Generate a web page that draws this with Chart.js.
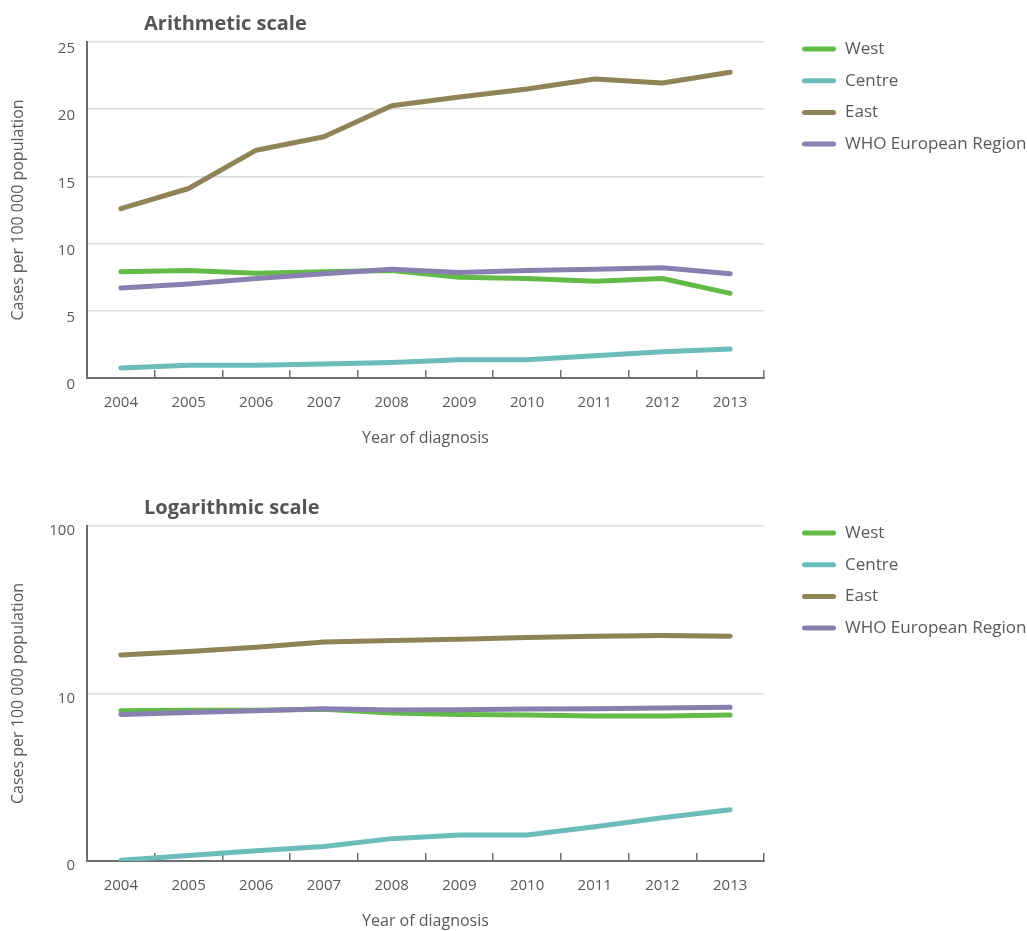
<!DOCTYPE html>
<html>
<head>
<meta charset="utf-8">
<script src="https://cdn.jsdelivr.net/npm/chart.js@4"></script>
<style>
  body { margin: 0; background: #fff; }
  .panel { position: absolute; left: 0; width: 1027px; height: 448px; }
</style>
</head>
<body>
<div class="panel" style="top:0"><canvas id="arithChart"></canvas></div>
<div class="panel" style="top:483px"><canvas id="logChart"></canvas></div>
<script>
const years = ["2004", "2005", "2006", "2007", "2008", "2009", "2010", "2011", "2012", "2013"];
const regions = ["West", "Centre", "East", "WHO European Region"];
const colours = ["#62bb46", "#6cbcbc", "#8f8357", "#897fb0"];

// arithmetic panel
const westArith = [7.9, 8.0, 7.8, 7.9, 8.0, 7.5, 7.4, 7.2, 7.4, 6.3];
const centreArith = [0.75, 0.95, 0.95, 1.05, 1.15, 1.35, 1.35, 1.65, 1.95, 2.15];
const eastArith = [12.6, 14.1, 16.95, 17.95, 20.25, 20.9, 21.5, 22.25, 21.95, 22.75];
const whoArith = [6.7, 7.0, 7.4, 7.75, 8.1, 7.85, 8.0, 8.1, 8.2, 7.75];

// logarithmic panel (values as drawn there)
const westLog = [7.9, 7.95, 7.95, 8.05, 7.65, 7.5, 7.45, 7.35, 7.35, 7.45];
const centreLog = [1.01, 1.08, 1.15, 1.22, 1.36, 1.43, 1.43, 1.6, 1.81, 2.02];
const eastLog = [17.0, 17.8, 18.9, 20.3, 20.7, 21.1, 21.6, 22.0, 22.2, 22.0];
const whoLog = [7.5, 7.7, 7.9, 8.1, 7.97, 8.0, 8.08, 8.1, 8.2, 8.27];

const logTicks = [1, 10, 100];
const logTickLabels = ["0", "10", "100"];

Chart.defaults.font.family = '"Open Sans", sans-serif';
Chart.defaults.color = "#58595b";

const axisGrey = "#6d6e71";
const gridGrey = "#dcdcdc";

const panelTitle = {
  id: "panelTitle",
  afterDraw(chart, args, opts) {
    const { ctx, chartArea } = chart;
    ctx.save();
    ctx.font = 'bold 20px "Open Sans", sans-serif';
    ctx.fillStyle = "#555";
    ctx.textBaseline = "middle";
    ctx.fillText(opts.text, chartArea.left + 57, chartArea.top - 18);
    ctx.restore();
  }
};

const sideLegend = {
  id: "sideLegend",
  afterDraw(chart) {
    const { ctx, chartArea } = chart;
    chart.data.datasets.forEach((ds, i) => {
      const y = chartArea.top + 7 + i * 31.7;
      ctx.save();
      ctx.strokeStyle = ds.borderColor;
      ctx.lineWidth = 5;
      ctx.lineCap = "round";
      ctx.beginPath();
      ctx.moveTo(chartArea.right + 40.5, y);
      ctx.lineTo(chartArea.right + 69.5, y);
      ctx.stroke();
      ctx.fillStyle = "#58595b";
      ctx.font = '17px "Open Sans", sans-serif';
      ctx.textBaseline = "middle";
      ctx.fillText(ds.label, chartArea.right + 81, y);
      ctx.restore();
    });
  }
};

function buildDatasets(series) {
  return series.map((data, i) => ({
    label: regions[i],
    data: data,
    borderColor: colours[i],
    backgroundColor: colours[i],
    borderWidth: 5,
    borderCapStyle: "round",
    borderJoinStyle: "round",
    pointRadius: 0,
    tension: 0,
    order: i === 3 ? 0 : 1
  }));
}

function xAxis() {
  return {
    type: "category",
    offset: true,
    grid: { offset: true, drawOnChartArea: false, drawTicks: true, tickLength: -8, color: axisGrey, lineWidth: 1.5 },
    border: { color: axisGrey, width: 2 },
    ticks: { padding: 24, font: { size: 15 }, maxRotation: 0, autoSkip: false },
    title: { display: true, text: "Year of diagnosis", font: { size: 16 }, padding: 0 },
    afterFit(s) { s.height = 70; }
  };
}

function yTitle() {
  return { display: true, text: "Cases per 100 000 population", font: { size: 16 }, padding: { top: 9 } };
}

function makeChart(id, series, yScale, title, padTop) {
  const ctx = document.getElementById(id).getContext("2d");
  return new Chart(ctx, {
    type: "line",
    data: { labels: years, datasets: buildDatasets(series) },
    options: {
      responsive: true,
      maintainAspectRatio: false,
      animation: false,
      layout: { padding: { top: padTop, right: 263, left: 0, bottom: 0 } },
      plugins: {
        legend: { display: false },
        tooltip: { enabled: false },
        panelTitle: { text: title }
      },
      scales: { x: xAxis(), y: yScale }
    },
    plugins: [panelTitle, sideLegend]
  });
}

makeChart("arithChart", [westArith, centreArith, eastArith, whoArith], {
  min: 0,
  max: 25,
  ticks: { stepSize: 5, padding: 12, labelOffset: 7, font: { size: 15 } },
  grid: { color: gridGrey, lineWidth: 1.5, drawTicks: false },
  border: { color: axisGrey, width: 2 },
  title: yTitle(),
  afterFit(s) { s.width = 87; }
}, "Arithmetic scale", 42);

makeChart("logChart", [westLog, centreLog, eastLog, whoLog], {
  type: "logarithmic",
  min: 1,
  max: 100,
  afterBuildTicks(s) { s.ticks = logTicks.map(v => ({ value: v })); },
  ticks: { padding: 12, labelOffset: 5, font: { size: 15 }, callback: (v, i) => logTickLabels[i] },
  grid: { color: gridGrey, lineWidth: 1.5, drawTicks: false },
  border: { color: axisGrey, width: 2 },
  title: yTitle(),
  afterFit(s) { s.width = 87; }
}, "Logarithmic scale", 43);
</script>
</body>
</html>
